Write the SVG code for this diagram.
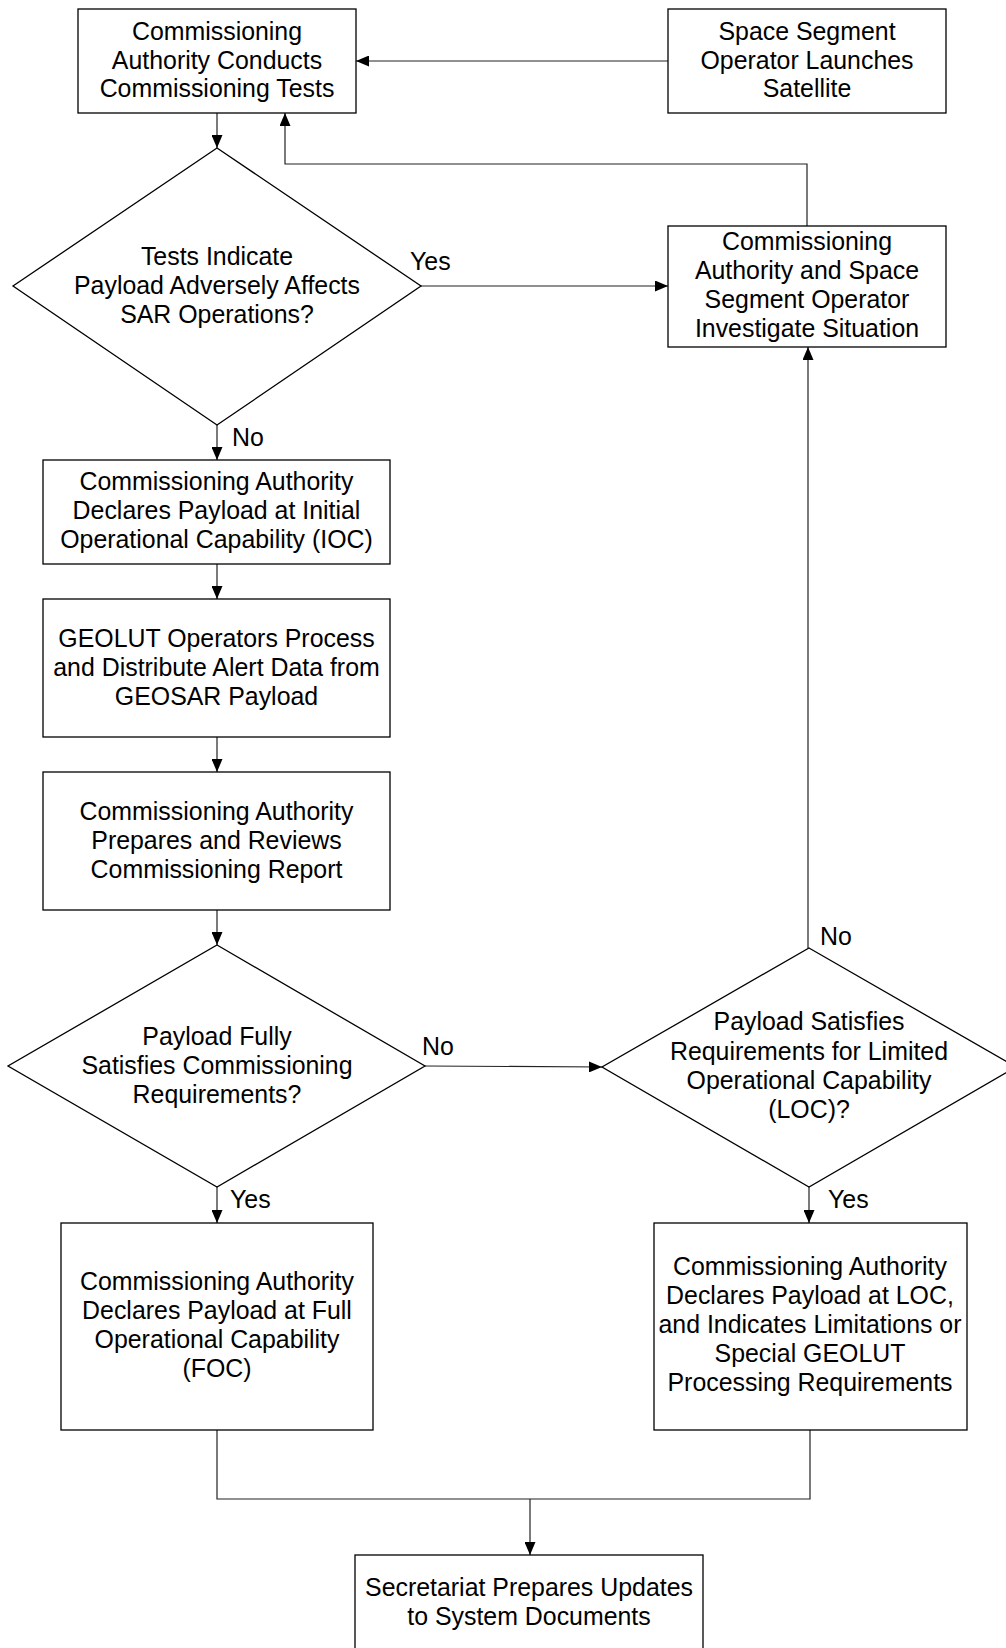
<svg xmlns="http://www.w3.org/2000/svg" width="1006" height="1648" viewBox="0 0 1006 1648">
<style>
.n{fill:#fff;stroke:#000;stroke-width:1.3}
.t{font-family:"Liberation Sans",Arial,sans-serif;font-size:24.9px;fill:#000;text-anchor:middle}
.l{font-family:"Liberation Sans",Arial,sans-serif;font-size:24.9px;fill:#000}
.c{fill:none;stroke:#222;stroke-width:1.2}
</style>
<defs>
<marker id="a" viewBox="0 0 13 11" refX="13" refY="5.5" markerWidth="13" markerHeight="11" markerUnits="userSpaceOnUse" orient="auto">
<path d="M0,0 L13,5.5 L0,11 Z" fill="#000"/>
</marker>
</defs>
<rect width="1006" height="1648" fill="#fff"/>
<g id="connectors">
<path class="c" d="M217,113 V148" marker-end="url(#a)"/>
<path class="c" d="M668,61 H356" marker-end="url(#a)"/>
<path class="c" d="M421,286 H668" marker-end="url(#a)"/>
<path class="c" d="M807,226 V164 H285 V113" marker-end="url(#a)"/>
<path class="c" d="M217,425 V460" marker-end="url(#a)"/>
<path class="c" d="M217,564 V599" marker-end="url(#a)"/>
<path class="c" d="M217,737 V772" marker-end="url(#a)"/>
<path class="c" d="M217,910 V945" marker-end="url(#a)"/>
<path class="c" d="M425,1066 L602,1067" marker-end="url(#a)"/>
<path class="c" d="M808,948 V347" marker-end="url(#a)"/>
<path class="c" d="M217,1187 V1223" marker-end="url(#a)"/>
<path class="c" d="M809,1187 V1223" marker-end="url(#a)"/>
<path class="c" d="M217,1430 V1499 H810 V1430"/>
<path class="c" d="M530,1499 V1555" marker-end="url(#a)"/>
<text class="l" x="410" y="270">Yes</text>
<text class="l" x="232" y="446">No</text>
<text class="l" x="422" y="1055">No</text>
<text class="l" x="820" y="945">No</text>
<text class="l" x="230" y="1208">Yes</text>
<text class="l" x="828" y="1208">Yes</text>
</g>
<g id="n1">
<rect class="n" x="78" y="9" width="278" height="104"/>
<text class="t" x="217" y="40">Commissioning</text>
<text class="t" x="217" y="68.5">Authority Conducts</text>
<text class="t" x="217" y="97">Commissioning Tests</text>
</g>
<g id="n2">
<rect class="n" x="668" y="9" width="278" height="104"/>
<text class="t" x="807" y="40">Space Segment</text>
<text class="t" x="807" y="68.5">Operator Launches</text>
<text class="t" x="807" y="97">Satellite</text>
</g>
<g id="d1">
<polygon class="n" points="217,148 421,286 217,425 13,286"/>
<text class="t" x="217" y="265">Tests Indicate</text>
<text class="t" x="217" y="294">Payload Adversely Affects</text>
<text class="t" x="217" y="323">SAR Operations?</text>
</g>
<g id="n3">
<rect class="n" x="668" y="226" width="278" height="121"/>
<text class="t" x="807" y="250">Commissioning</text>
<text class="t" x="807" y="279">Authority and Space</text>
<text class="t" x="807" y="308">Segment Operator</text>
<text class="t" x="807" y="337">Investigate Situation</text>
</g>
<g id="n4">
<rect class="n" x="43" y="460" width="347" height="104"/>
<text class="t" x="216.5" y="490">Commissioning Authority</text>
<text class="t" x="216.5" y="519">Declares Payload at Initial</text>
<text class="t" x="216.5" y="548">Operational Capability (IOC)</text>
</g>
<g id="n5">
<rect class="n" x="43" y="599" width="347" height="138"/>
<text class="t" x="216.5" y="647">GEOLUT Operators Process</text>
<text class="t" x="216.5" y="676">and Distribute Alert Data from</text>
<text class="t" x="216.5" y="705">GEOSAR Payload</text>
</g>
<g id="n6">
<rect class="n" x="43" y="772" width="347" height="138"/>
<text class="t" x="216.5" y="820">Commissioning Authority</text>
<text class="t" x="216.5" y="849">Prepares and Reviews</text>
<text class="t" x="216.5" y="878">Commissioning Report</text>
</g>
<g id="d2">
<polygon class="n" points="217,945 425,1066 217,1187 8,1066"/>
<text class="t" x="217" y="1045">Payload Fully</text>
<text class="t" x="217" y="1074">Satisfies Commissioning</text>
<text class="t" x="217" y="1103">Requirements?</text>
</g>
<g id="d3">
<polygon class="n" points="809,948 1016,1067 809,1187 602,1067"/>
<text class="t" x="809" y="1030">Payload Satisfies</text>
<text class="t" x="809" y="1060">Requirements for Limited</text>
<text class="t" x="809" y="1089">Operational Capability</text>
<text class="t" x="809" y="1118">(LOC)?</text>
</g>
<g id="n7">
<rect class="n" x="61" y="1223" width="312" height="207"/>
<text class="t" x="217" y="1290">Commissioning Authority</text>
<text class="t" x="217" y="1319">Declares Payload at Full</text>
<text class="t" x="217" y="1348">Operational Capability</text>
<text class="t" x="217" y="1377">(FOC)</text>
</g>
<g id="n8">
<rect class="n" x="654" y="1223" width="313" height="207"/>
<text class="t" x="810" y="1275">Commissioning Authority</text>
<text class="t" x="810" y="1304">Declares Payload at LOC,</text>
<text class="t" x="810" y="1333">and Indicates Limitations or</text>
<text class="t" x="810" y="1362">Special GEOLUT</text>
<text class="t" x="810" y="1391">Processing Requirements</text>
</g>
<g id="n9">
<rect class="n" x="355" y="1555" width="348" height="120"/>
<text class="t" x="529" y="1596">Secretariat Prepares Updates</text>
<text class="t" x="529" y="1625">to System Documents</text>
</g>
</svg>
